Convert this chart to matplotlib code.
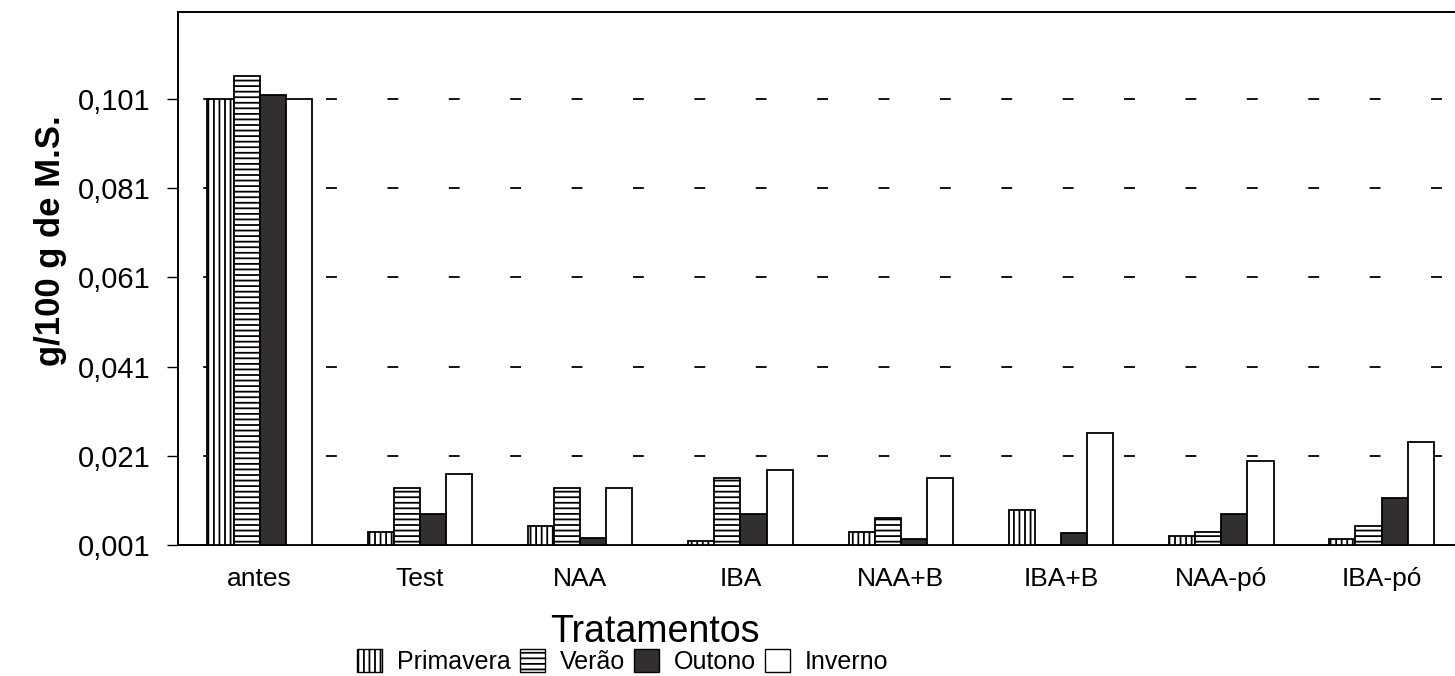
import numpy as np
import matplotlib.pyplot as plt
from matplotlib.patches import Patch

tratamentos = ["antes", "Test", "NAA", "IBA", "NAA+B", "IBA+B", "NAA-pó", "IBA-pó"]
primavera = [0.1010, 0.0039, 0.0053, 0.0019, 0.0039, 0.0088, 0.0030, 0.0023]
verao = [0.1062, 0.0138, 0.0138, 0.0160, 0.0071, 0.0010, 0.0039, 0.0053]
outono = [0.1019, 0.0080, 0.0026, 0.0080, 0.0024, 0.0037, 0.0080, 0.0115]
inverno = [0.1010, 0.0169, 0.0138, 0.0178, 0.0160, 0.0261, 0.0198, 0.0241]
yticks = [0.001, 0.021, 0.041, 0.061, 0.081, 0.101]
ytick_labels = ["0,001", "0,021", "0,041", "0,061", "0,081", "0,101"]

plt.rcParams['font.family'] = ['Liberation Sans', 'DejaVu Sans']
plt.rcParams['hatch.linewidth'] = 1.3

fig = plt.figure(figsize=(14.55, 6.76), dpi=100)
ax = fig.add_axes([0.1223, 0.1938, 0.8790, 0.7882])

x = np.arange(len(tratamentos))
w = 0.163
base = 0.001

series = [
    (primavera, "Primavera", dict(facecolor="white", hatch="|||")),
    (verao, "Verão", dict(facecolor="white", hatch="---")),
    (outono, "Outono", dict(facecolor="#332e31")),
    (inverno, "Inverno", dict(facecolor="white")),
]

for i, (vals, name, style) in enumerate(series):
    heights = np.array(vals) - base
    ax.bar(x + (i - 1.5) * w, heights, w, bottom=base, edgecolor="black",
           linewidth=1.3, zorder=3, **style)

for t in yticks[1:]:
    ax.axhline(t, color="black", linewidth=1.3, linestyle=(20, (6, 28)), zorder=1)

ax.set_xlim(-0.51, 7.47)
ax.set_ylim(0.001, 0.1205)
ax.set_yticks(yticks)
ax.set_yticklabels(ytick_labels, fontsize=21)
ax.set_xticks(x)
ax.set_xticklabels(tratamentos, fontsize=19)
ax.tick_params(axis="x", length=0, pad=16)
ax.tick_params(axis="y", direction="out", length=8, width=1, pad=12)
for s in ax.spines.values():
    s.set_linewidth(1.4)

ax.set_ylabel("g/100 g de M.S.", fontsize=25, fontweight="bold")
ax.yaxis.set_label_coords(-0.087, 0.572)
ax.set_xlabel("Tratamentos", fontsize=27)
ax.xaxis.set_label_coords(0.373, -0.13)

handles = [Patch(edgecolor="black", linewidth=1.0, **st) for _, _, st in series]
labels = [n for _, n, _ in series]
fig.legend(handles, labels, loc="center", bbox_to_anchor=(0.428, 0.021), ncol=4,
           frameon=False, fontsize=18, handlelength=1.0, handleheight=1.0,
           handletextpad=0.6, columnspacing=0.35)

fig.savefig("out.png", dpi=100)
